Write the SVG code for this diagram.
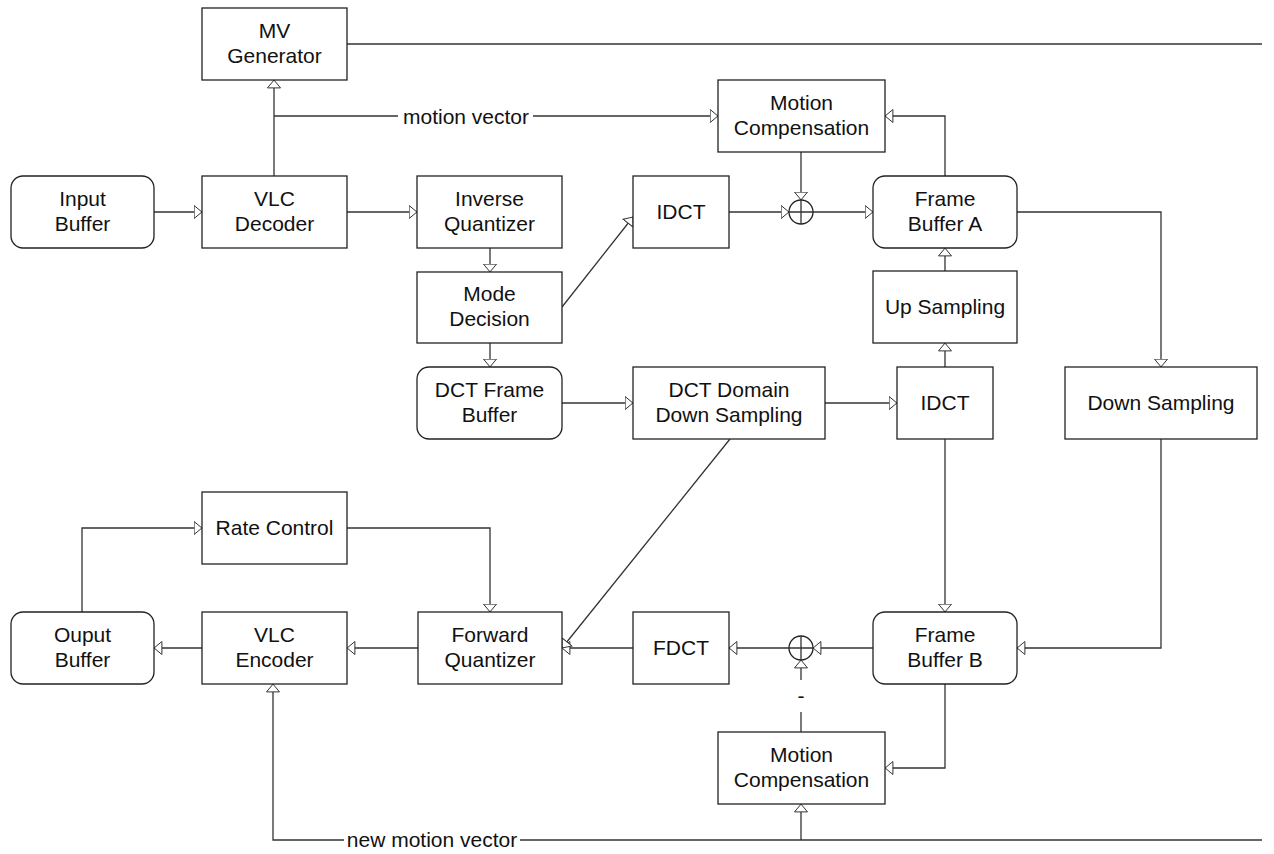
<svg xmlns="http://www.w3.org/2000/svg" width="1274" height="854" viewBox="0 0 1274 854">
<defs>
<marker id="ah" markerUnits="userSpaceOnUse" viewBox="0 0 9 15" refX="8.5" refY="7.5" markerWidth="9" markerHeight="15" orient="auto">
<path d="M0.6,1 L8.4,7.5 L0.6,14 Z" fill="#fff" stroke="#333" stroke-width="1"/>
</marker>
<style>
.box{fill:#fff;stroke:#222;stroke-width:1.3}
.t{font-family:"Liberation Sans",Arial,sans-serif;font-size:21px;fill:#111;text-anchor:middle}
.c{fill:none;stroke:#333;stroke-width:1.3}
.a{marker-end:url(#ah)}
</style>
</defs>
<rect width="1274" height="854" fill="#fff"/>
<g id="connectors">
<path class="c a" d="M154,212 H202"/>
<path class="c a" d="M274,176 V80"/>
<path class="c" d="M274,116 H398"/>
<path class="c a" d="M533,116 H718"/>
<text class="t" x="466" y="123.5">motion vector</text>
<path class="c a" d="M347,212 H417"/>
<path class="c a" d="M490,248 V272"/>
<path class="c a" d="M562,307 L633,217"/>
<path class="c a" d="M490,343 V367"/>
<path class="c a" d="M562,403 H633"/>
<path class="c a" d="M825,403 H897"/>
<path class="c a" d="M945,367 V343"/>
<path class="c a" d="M945,271 V248"/>
<path class="c a" d="M729,212 H789"/>
<path class="c a" d="M801,152 V200"/>
<path class="c a" d="M813,212 H873"/>
<path class="c a" d="M945,176 V116 H885"/>
<path class="c a" d="M1017,212 H1161 V367"/>
<path class="c a" d="M1161,439 V648 H1017"/>
<path class="c a" d="M945,439 V612"/>
<path class="c a" d="M873,648 H813"/>
<path class="c a" d="M789,648 H729"/>
<path class="c a" d="M633,648 H562"/>
<path class="c a" d="M730,439 L562,648"/>
<path class="c a" d="M945,684 V768 H885"/>
<path class="c" d="M801,732 V712"/>
<path class="c a" d="M801,680 V660"/>
<text class="t" x="801" y="703">-</text>
<path class="c a" d="M418,648 H347"/>
<path class="c a" d="M202,648 H154"/>
<path class="c a" d="M82,612 V528 H202"/>
<path class="c a" d="M347,528 H490 V612"/>
<path class="c" d="M347,44 H1262"/>
<path class="c" d="M1262,840 H520"/>
<path class="c a" d="M344,840 H273 V684"/>
<text class="t" x="432" y="847">new motion vector</text>
<path class="c a" d="M801,840 V804"/>
</g>
<g id="sum1">
<circle cx="801" cy="212" r="12" class="box"/>
<path class="c" d="M789,212 H813 M801,200 V224"/>
</g>
<g id="sum2">
<circle cx="801" cy="648" r="12" class="box"/>
<path class="c" d="M789,648 H813 M801,636 V660"/>
</g>
<g id="mv-generator"><rect class="box" x="202" y="8" width="145" height="72"/><text class="t" x="274.5" y="38">MV</text><text class="t" x="274.5" y="63">Generator</text></g>
<g id="mc-top"><rect class="box" x="718" y="80" width="167" height="72"/><text class="t" x="801.5" y="110">Motion</text><text class="t" x="801.5" y="135">Compensation</text></g>
<g id="input-buffer"><rect class="box" x="11" y="176" width="143" height="72" rx="12"/><text class="t" x="82.5" y="206">Input</text><text class="t" x="82.5" y="231">Buffer</text></g>
<g id="vlc-decoder"><rect class="box" x="202" y="176" width="145" height="72"/><text class="t" x="274.5" y="206">VLC</text><text class="t" x="274.5" y="231">Decoder</text></g>
<g id="inverse-quantizer"><rect class="box" x="417" y="176" width="145" height="72"/><text class="t" x="489.5" y="206">Inverse</text><text class="t" x="489.5" y="231">Quantizer</text></g>
<g id="idct-top"><rect class="box" x="633" y="176" width="96" height="72"/><text class="t" x="681" y="219">IDCT</text></g>
<g id="frame-buffer-a"><rect class="box" x="873" y="176" width="144" height="72" rx="12"/><text class="t" x="945" y="206">Frame</text><text class="t" x="945" y="231">Buffer A</text></g>
<g id="mode-decision"><rect class="box" x="417" y="272" width="145" height="71"/><text class="t" x="489.5" y="301">Mode</text><text class="t" x="489.5" y="326">Decision</text></g>
<g id="up-sampling"><rect class="box" x="873" y="271" width="144" height="72"/><text class="t" x="945" y="314">Up Sampling</text></g>
<g id="dct-frame-buffer"><rect class="box" x="417" y="367" width="145" height="72" rx="12"/><text class="t" x="489.5" y="397">DCT Frame</text><text class="t" x="489.5" y="422">Buffer</text></g>
<g id="dct-domain-down-sampling"><rect class="box" x="633" y="367" width="192" height="72"/><text class="t" x="729" y="397">DCT Domain</text><text class="t" x="729" y="422">Down Sampling</text></g>
<g id="idct-mid"><rect class="box" x="897" y="367" width="96" height="72"/><text class="t" x="945" y="410">IDCT</text></g>
<g id="down-sampling"><rect class="box" x="1065" y="367" width="192" height="72"/><text class="t" x="1161" y="410">Down Sampling</text></g>
<g id="rate-control"><rect class="box" x="202" y="492" width="145" height="72"/><text class="t" x="274.5" y="535">Rate Control</text></g>
<g id="ouput-buffer"><rect class="box" x="11" y="612" width="143" height="72" rx="12"/><text class="t" x="82.5" y="642">Ouput</text><text class="t" x="82.5" y="667">Buffer</text></g>
<g id="vlc-encoder"><rect class="box" x="202" y="612" width="145" height="72"/><text class="t" x="274.5" y="642">VLC</text><text class="t" x="274.5" y="667">Encoder</text></g>
<g id="forward-quantizer"><rect class="box" x="418" y="612" width="144" height="72"/><text class="t" x="490" y="642">Forward</text><text class="t" x="490" y="667">Quantizer</text></g>
<g id="fdct"><rect class="box" x="633" y="612" width="96" height="72"/><text class="t" x="681" y="655">FDCT</text></g>
<g id="frame-buffer-b"><rect class="box" x="873" y="612" width="144" height="72" rx="12"/><text class="t" x="945" y="642">Frame</text><text class="t" x="945" y="667">Buffer B</text></g>
<g id="mc-bottom"><rect class="box" x="718" y="732" width="167" height="72"/><text class="t" x="801.5" y="762">Motion</text><text class="t" x="801.5" y="787">Compensation</text></g>
</svg>
